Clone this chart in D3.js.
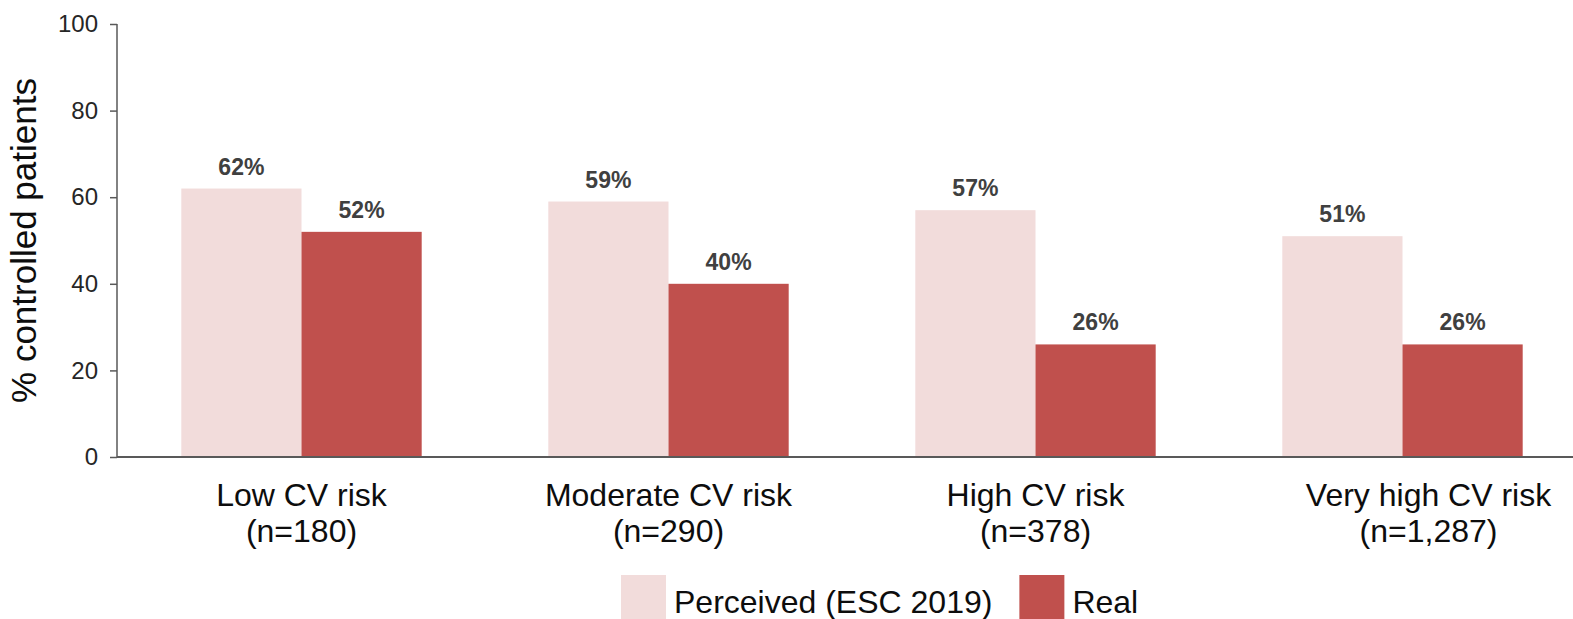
<!DOCTYPE html>
<html>
<head>
<meta charset="utf-8">
<script src="https://cdn.jsdelivr.net/npm/d3@7"></script>
<style>
  body { margin: 0; background: #fff; }
  svg { display: block; font-family: "Liberation Sans", Arial, sans-serif; }
</style>
</head>
<body>
<svg width="1573" height="619"></svg>
<script>
// data
var categories = ["Low CV risk", "Moderate CV risk", "High CV risk", "Very high CV risk"];
var sampleSizes = ["(n=180)", "(n=290)", "(n=378)", "(n=1,287)"];
var seriesNames = ["Perceived (ESC 2019)", "Real"];
var perceived = [62, 59, 57, 51];
var real = [52, 40, 26, 26];
var yTicks = [0, 20, 40, 60, 80, 100];

var colors = ["#f2dcdb", "#c0504d"];

var svg = d3.select("svg");
var width = +svg.attr("width");
var plotLeft = 117, plotTop = 24, plotBottom = 457;

var rows = categories.map(function(c, i) {
  return {name: c, n: sampleSizes[i], values: [perceived[i], real[i]]};
});

var x0 = d3.scaleBand()
  .domain(categories)
  .range([118, 1586])
  .paddingInner(0.345)
  .paddingOuter(0.1725);

var x1 = d3.scaleBand()
  .domain([0, 1])
  .range([0, x0.bandwidth()]);

var y = d3.scaleLinear()
  .domain([0, 100])
  .range([plotBottom, plotTop]);

// bars
var group = svg.selectAll(".group")
  .data(rows)
  .enter().append("g")
  .attr("class", "group")
  .attr("transform", function(d) { return "translate(" + x0(d.name) + ",0)"; });

group.selectAll("rect")
  .data(function(d) { return d.values; })
  .enter().append("rect")
  .attr("x", function(d, i) { return x1(i); })
  .attr("y", function(d) { return y(d); })
  .attr("width", x1.bandwidth())
  .attr("height", function(d) { return plotBottom - y(d); })
  .attr("fill", function(d, i) { return colors[i]; });

group.selectAll(".val")
  .data(function(d) { return d.values; })
  .enter().append("text")
  .attr("class", "val")
  .attr("x", function(d, i) { return x1(i) + x1.bandwidth() / 2; })
  .attr("y", function(d) { return y(d) - 14; })
  .attr("text-anchor", "middle")
  .attr("font-size", 23)
  .attr("font-weight", "bold")
  .attr("fill", "#404040")
  .text(function(d) { return d + "%"; });

// y axis
var yAxis = svg.append("g")
  .attr("transform", "translate(" + plotLeft + ",0)")
  .call(d3.axisLeft(y).tickValues(yTicks).tickSize(7).tickPadding(12));
yAxis.select(".domain").attr("stroke", "#595959").attr("stroke-width", 1.5)
  .attr("d", "M0," + plotTop + "V" + plotBottom);
yAxis.selectAll(".tick line").attr("stroke", "#595959").attr("stroke-width", 1.5);
yAxis.selectAll(".tick text")
  .attr("font-size", 24)
  .attr("font-family", "Liberation Sans, Arial, sans-serif")
  .attr("fill", "#262626");

// x axis line
svg.append("line")
  .attr("x1", plotLeft).attr("x2", width)
  .attr("y1", plotBottom).attr("y2", plotBottom)
  .attr("stroke", "#595959")
  .attr("stroke-width", 2);

// category labels (last one sits a little right in the original)
var catLabel = svg.selectAll(".cat")
  .data(rows)
  .enter().append("text")
  .attr("class", "cat")
  .attr("text-anchor", "middle")
  .attr("font-size", 32)
  .attr("fill", "#0d0d0d")
  .attr("transform", function(d, i) {
    var cx = x0(d.name) + x0.bandwidth() / 2 + (i == 3 ? 26 : 0);
    return "translate(" + cx + ",0)";
  });
catLabel.append("tspan").attr("x", 0).attr("y", 506).text(function(d) { return d.name; });
catLabel.append("tspan").attr("x", 0).attr("y", 542).text(function(d) { return d.n; });

// y title
svg.append("text")
  .attr("transform", "translate(36," + (plotTop + plotBottom) / 2 + ") rotate(-90)")
  .attr("text-anchor", "middle")
  .attr("font-size", 35)
  .attr("fill", "#0d0d0d")
  .text("% controlled patients");

// legend
var lx = 621;
seriesNames.forEach(function(name, i) {
  var item = svg.append("g").attr("transform", "translate(" + lx + ",575)");
  item.append("rect")
    .attr("width", 45).attr("height", 45)
    .attr("fill", colors[i]);
  var t = item.append("text")
    .attr("x", 53).attr("y", 38)
    .attr("font-size", 32)
    .attr("fill", "#0d0d0d")
    .text(name);
  lx += 53 + t.node().getComputedTextLength() + 27;
});
</script>
</body>
</html>
